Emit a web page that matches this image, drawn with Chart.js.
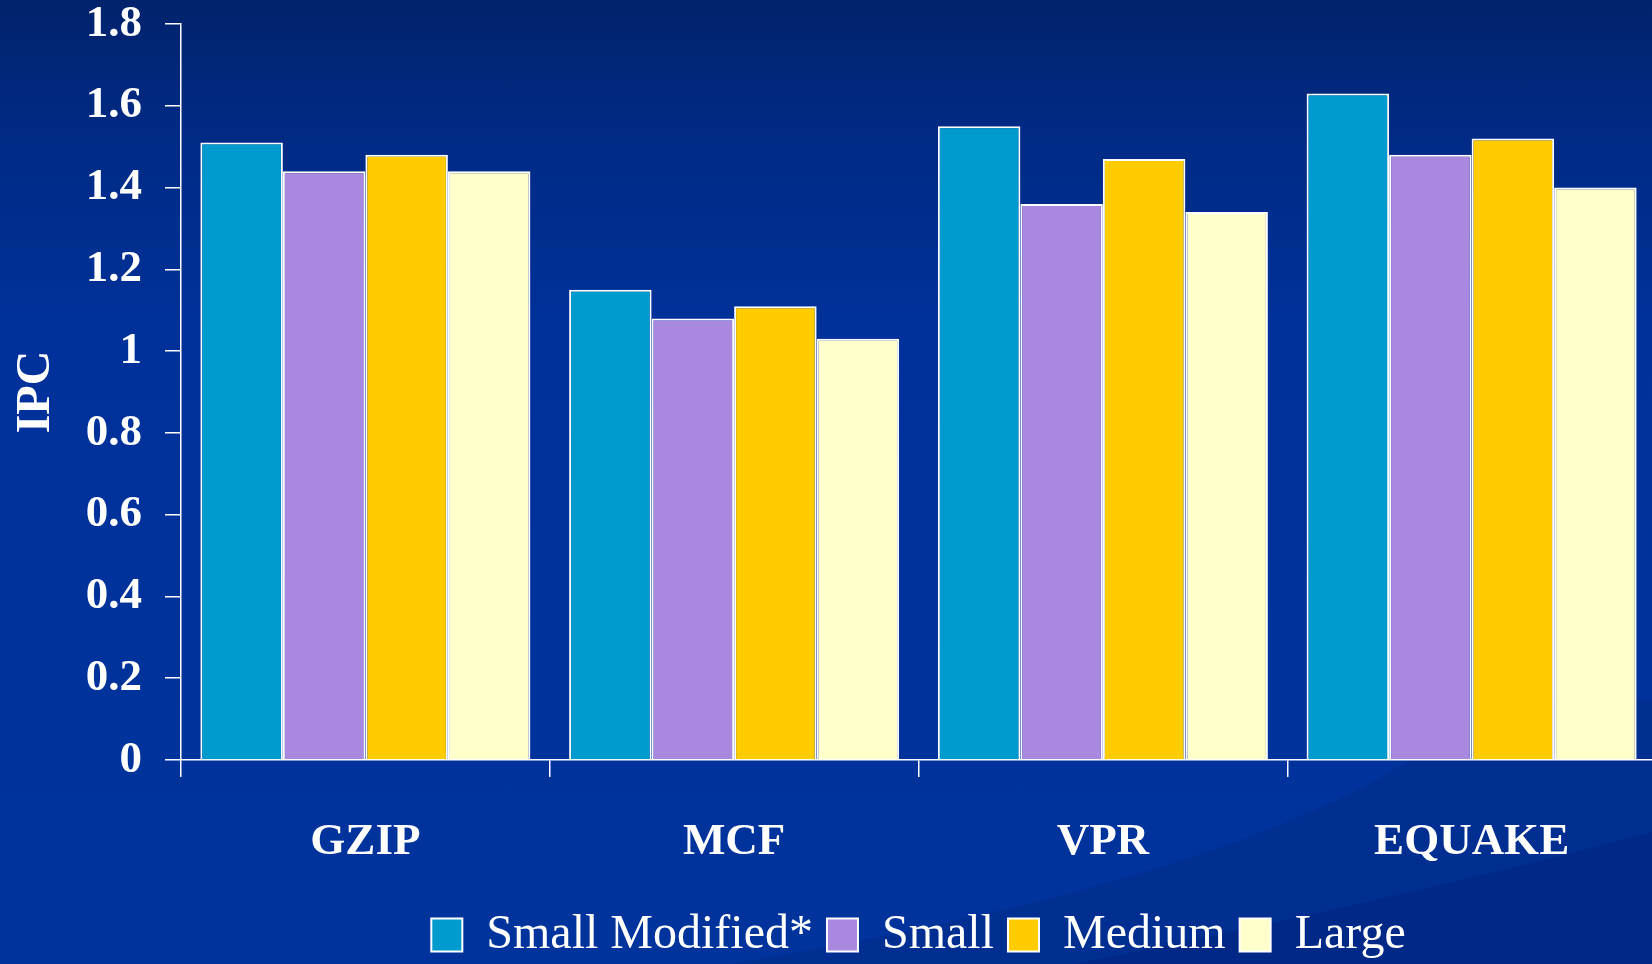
<!DOCTYPE html>
<html>
<head>
<meta charset="utf-8">
<title>IPC</title>
<script src="https://cdn.jsdelivr.net/npm/chart.js@4.4.1/dist/chart.umd.min.js"></script>
<style>
	html, body {
		margin: 0;
		padding: 0;
		overflow: hidden;
		width: 1652px;
		height: 964px;
		background: linear-gradient(180deg, #01236c 0px, #002a84 130px, #00319a 330px, #00339c 964px);
	}
	#chart {
		display: block;
	}
</style>
</head>
<body>
<canvas id="chart" width="1660" height="969"></canvas>
<script>
const categories = ['GZIP', 'MCF', 'VPR', 'EQUAKE'];
const seriesNames = ['Small Modified*', 'Small', 'Medium', 'Large'];
const smallModified = [1.51, 1.15, 1.55, 1.63];
const small = [1.44, 1.08, 1.36, 1.48];
const medium = [1.48, 1.11, 1.47, 1.52];
const large = [1.44, 1.03, 1.34, 1.40];
const yTickLabels = ['0', '0.2', '0.4', '0.6', '0.8', '1', '1.2', '1.4', '1.6', '1.8'];

const seriesColors = ['#009bce', '#a889df', '#ffcc00', '#ffffcc'];
const serif = '"Liberation Serif", "Times New Roman", serif';

// faint swooshes in the lower right of the slide background
const backdrop = {
	id: 'backdrop',
	beforeDraw(chart) {
		const ctx = chart.ctx;
		ctx.save();
		ctx.fillStyle = 'rgba(0, 30, 110, 0.22)';
		ctx.beginPath();
		ctx.moveTo(700, 969);
		ctx.quadraticCurveTo(1250, 880, 1440, 740);
		ctx.quadraticCurveTo(1500, 690, 1660, 700);
		ctx.lineTo(1660, 969);
		ctx.closePath();
		ctx.fill();
		ctx.fillStyle = 'rgba(0, 25, 100, 0.25)';
		ctx.beginPath();
		ctx.moveTo(1050, 969);
		ctx.quadraticCurveTo(1400, 900, 1660, 830);
		ctx.lineTo(1660, 969);
		ctx.closePath();
		ctx.fill();
		ctx.restore();
	}
};

const datasets = [smallModified, small, medium, large].map((values, i) => ({
	label: seriesNames[i],
	data: values,
	backgroundColor: seriesColors[i],
	borderColor: '#ffffff',
	borderWidth: 2,
	categoryPercentage: 0.895,
	barPercentage: 1.0
}));

const ctx = document.getElementById('chart').getContext('2d');
new Chart(ctx, {
	type: 'bar',
	data: {
		labels: categories,
		datasets: datasets
	},
	plugins: [backdrop],
	options: {
		responsive: false,
		animation: false,
		devicePixelRatio: 1,
		layout: {
			padding: {left: 0, right: 4, top: 0, bottom: 0}
		},
		plugins: {
			tooltip: {enabled: false},
			legend: {
				position: 'bottom',
				fullSize: false,
				labels: {
					color: '#ffffff',
					boxWidth: 31,
					boxHeight: 33,
					padding: 14,
					font: {family: serif, size: 48}
				}
			}
		},
		scales: {
			x: {
				grid: {
					offset: true,
					drawOnChartArea: false,
					color: '#ffffff',
					lineWidth: 1.5,
					tickLength: 17
				},
				border: {color: '#ffffff', width: 1.5},
				ticks: {
					color: '#ffffff',
					padding: 38,
					font: {family: serif, size: 45, weight: 'bold', lineHeight: 1.2}
				},
				afterFit: (scale) => { scale.height = 137; }
			},
			y: {
				min: 0,
				max: 1.8,
				grid: {
					drawOnChartArea: false,
					color: '#ffffff',
					lineWidth: 1.5,
					tickLength: 16
				},
				border: {color: '#ffffff', width: 1.5},
				ticks: {
					stepSize: 0.2,
					color: '#ffffff',
					padding: 23,
					font: {family: serif, size: 45, weight: 'bold', lineHeight: 1.1},
					callback: (value, index) => yTickLabels[index]
				},
				title: {
					display: true,
					text: 'IPC',
					color: '#ffffff',
					padding: {top: 8, bottom: 0},
					font: {family: serif, size: 48, weight: 'bold', lineHeight: 1.2}
				},
				afterFit: (scale) => {
					scale.width = 181;
					// keep the top of the axis close to the 1.8 label
					scale.paddingTop = 24;
				}
			}
		}
	}
});
</script>
</body>
</html>
